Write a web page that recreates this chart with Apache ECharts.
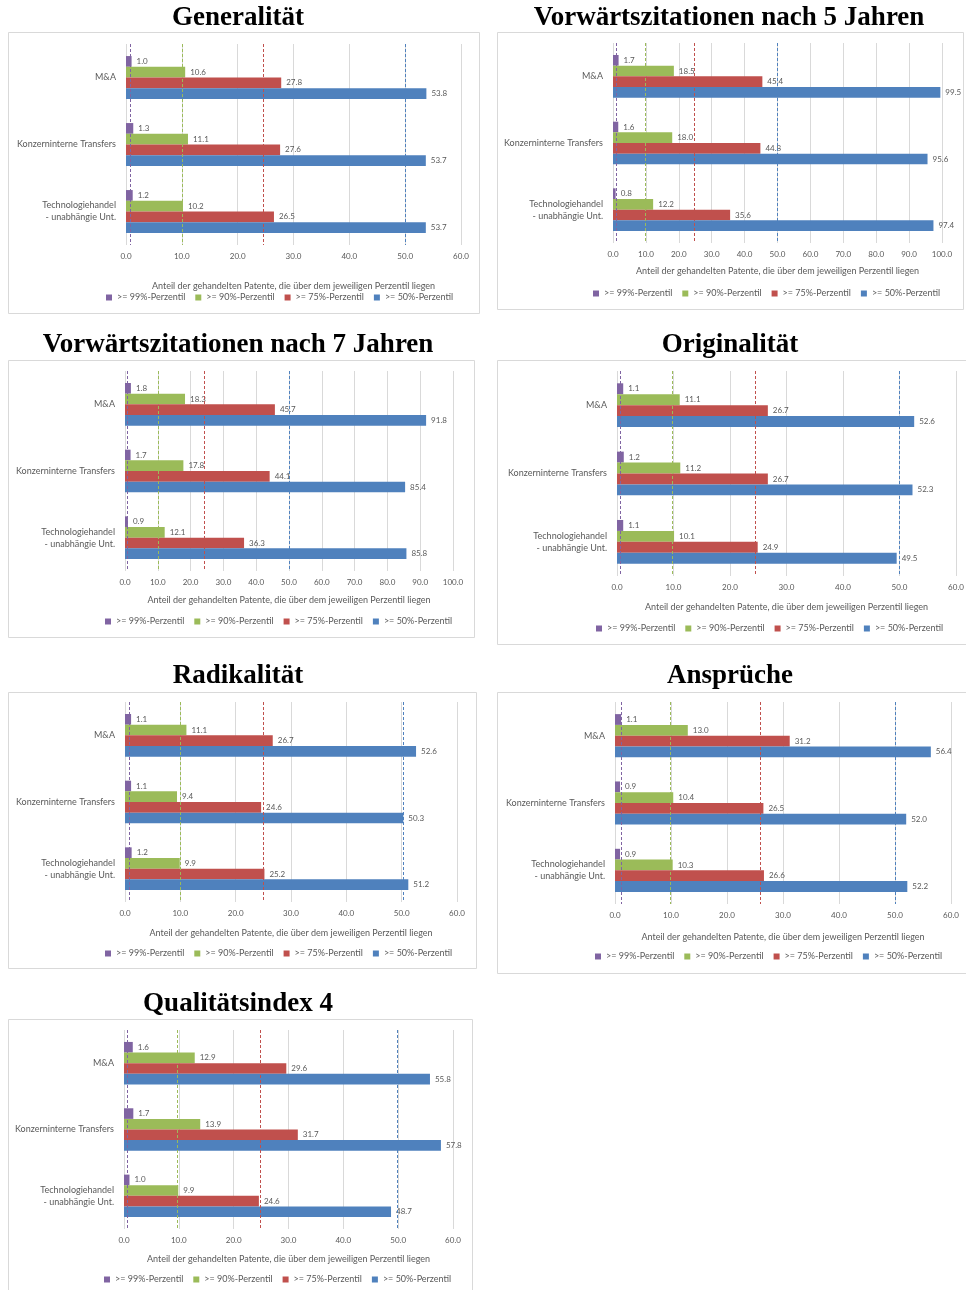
<!DOCTYPE html>
<html>
<head>
<meta charset="utf-8">
<script src="https://cdn.jsdelivr.net/npm/echarts@6/dist/echarts.min.js"></script>
<style>
  html, body { margin: 0; padding: 0; background: #fff; }
  #chart { width: 966px; height: 1290px; }
</style>
</head>
<body>
<div id="chart"></div>
<script>
const categories = ['M&A', 'Konzerninterne Transfers', 'Technologiehandel\n- unabhängie Unt.']
const seriesNames = ['>= 99%-Perzentil', '>= 90%-Perzentil', '>= 75%-Perzentil', '>= 50%-Perzentil']
const panelTitles = [
  'Generalität',
  'Vorwärtszitationen nach 5 Jahren',
  'Vorwärtszitationen nach 7 Jahren',
  'Originalität',
  'Radikalität',
  'Ansprüche',
  'Qualitätsindex 4'
]
const axisName = 'Anteil der gehandelten Patente, die über dem jeweiligen Perzentil liegen'
const axisMax = [60, 100, 100, 60, 60, 60, 60]

// rows: 99%, 90%, 75%, 50% -- columns: categories
const generalitaet = [[1.0, 1.3, 1.2], [10.6, 11.1, 10.2], [27.8, 27.6, 26.5], [53.8, 53.7, 53.7]]
const vz5 = [[1.7, 1.6, 0.8], [18.5, 18.0, 12.2], [45.4, 44.8, 35.6], [99.5, 95.6, 97.4]]
const vz7 = [[1.8, 1.7, 0.9], [18.3, 17.8, 12.1], [45.7, 44.1, 36.3], [91.8, 85.4, 85.8]]
const originalitaet = [[1.1, 1.2, 1.1], [11.1, 11.2, 10.1], [26.7, 26.7, 24.9], [52.6, 52.3, 49.5]]
const radikalitaet = [[1.1, 1.1, 1.2], [11.1, 9.4, 9.9], [26.7, 24.6, 25.2], [52.6, 50.3, 51.2]]
const ansprueche = [[1.1, 0.9, 0.9], [13.0, 10.4, 10.3], [31.2, 26.5, 26.6], [56.4, 52.0, 52.2]]
const qualitaet4 = [[1.6, 1.7, 1.0], [12.9, 13.9, 9.9], [29.6, 31.7, 24.6], [55.8, 57.8, 48.7]]

// Perzentil-Schwellen (gestrichelte Linien): 99%, 90%, 75%, 50%
const generalitaetLines = [0.7, 10, 24.6, 50]
const vz5Lines = [1.1, 9.7, 24.6, 49.8]
const vz7Lines = [0.6, 10, 24.3, 50]
const originalitaetLines = [0.6, 9.8, 24.4, 50]
const radikalitaetLines = [0.7, 10, 24.9, 50.2]
const anspruecheLines = [1.2, 9.8, 25.9, 50]
const qualitaet4Lines = [0.6, 9.8, 24.8, 49.8]

const panelData = [generalitaet, vz5, vz7, originalitaet, radikalitaet, ansprueche, qualitaet4]
const panelLines = [generalitaetLines, vz5Lines, vz7Lines, originalitaetLines, radikalitaetLines, anspruecheLines, qualitaet4Lines]

const colors = ['#8064A2', '#9BBB59', '#C0504D', '#4F81BD']
const textColor = '#595959'
const font = 'Lato, "Open Sans", sans-serif'

// box: x, y, w, h / title: cx, cy / grid: left, top, width, height
const layout = [
  { box: [8, 32, 471, 281], title: [238, 18], grid: [126, 44, 335, 201], nameY: 287, legend: [106, 298] },
  { box: [497, 32, 466, 277], title: [729, 18], grid: [613, 43, 329, 200], nameY: 272, legend: [593, 294] },
  { box: [8, 360, 466, 277], title: [238, 345], grid: [125, 371, 328, 200], nameY: 601, legend: [105, 622] },
  { box: [497, 360, 470, 284], title: [730, 345], grid: [617, 371, 339, 205], nameY: 608, legend: [596, 629] },
  { box: [8, 692, 468, 276], title: [238, 676], grid: [125, 702, 332, 200], nameY: 934, legend: [105, 954] },
  { box: [497, 692, 470, 281], title: [730, 676], grid: [615, 702, 336, 202], nameY: 938, legend: [595, 957] },
  { box: [8, 1019, 464, 290], title: [238, 1004], grid: [124, 1030, 329, 199], nameY: 1260, legend: [104, 1280] }
]

const option = {
  animation: false,
  backgroundColor: '#fff',
  title: [], grid: [], xAxis: [], yAxis: [], legend: [], series: [], graphic: []
}

layout.forEach((p, i) => {
  option.graphic.push({
    type: 'rect', z: -10, silent: true,
    shape: { x: p.box[0] + 0.5, y: p.box[1] + 0.5, width: p.box[2], height: p.box[3] },
    style: { fill: 'none', stroke: '#d9d9d9', lineWidth: 1 }
  })
  option.title.push({
    text: panelTitles[i], left: p.title[0], top: p.title[1], padding: 0,
    textAlign: 'center', textVerticalAlign: 'middle',
    textStyle: { fontFamily: '"Liberation Serif", "Times New Roman", serif', fontWeight: 'bold', fontSize: 27, color: '#000' }
  })
  option.grid.push({ left: p.grid[0], top: p.grid[1], width: p.grid[2], height: p.grid[3], outerBoundsMode: 'none' })
  option.xAxis.push({
    gridIndex: i, type: 'value', min: 0, max: axisMax[i], interval: 10,
    name: axisName, nameLocation: 'middle', nameGap: p.nameY - (p.grid[1] + p.grid[3]) - 5,
    nameTextStyle: { color: textColor, fontSize: 9, fontFamily: font },
    axisLine: { show: false }, axisTick: { show: false },
    axisLabel: { color: textColor, fontSize: 8, fontFamily: font, margin: 7, formatter: v => v.toFixed(1) },
    splitLine: { lineStyle: { color: '#d9d9d9' } }
  })
  option.yAxis.push({
    gridIndex: i, type: 'category', inverse: true, data: categories,
    axisLine: { show: false }, axisTick: { show: false },
    axisLabel: { color: textColor, fontSize: 9, lineHeight: 12, margin: 10, fontFamily: font }
  })
  option.legend.push({
    data: seriesNames, left: p.legend[0], top: p.legend[1] - 5, padding: 0,
    icon: 'rect', itemWidth: 6, itemHeight: 6, itemGap: 10,
    textStyle: { color: textColor, fontSize: 9, fontFamily: font }
  })
  seriesNames.forEach((name, s) => {
    option.series.push({
      type: 'bar', name, xAxisIndex: i, yAxisIndex: i,
      data: panelData[i][s],
      barGap: '0%', barCategoryGap: '36%',
      itemStyle: { color: colors[s] },
      label: {
        show: true, position: 'right', distance: 5,
        color: textColor, fontSize: 8, fontFamily: font,
        formatter: d => d.value.toFixed(1)
      },
      markLine: {
        silent: true, symbol: 'none', label: { show: false },
        lineStyle: { color: colors[s], type: [3, 2], width: 1 },
        data: [{ xAxis: panelLines[i][s] }]
      }
    })
  })
})

const chart = echarts.init(document.getElementById('chart'))
chart.setOption(option)
window.addEventListener('resize', () => chart.resize())
</script>
</body>
</html>
